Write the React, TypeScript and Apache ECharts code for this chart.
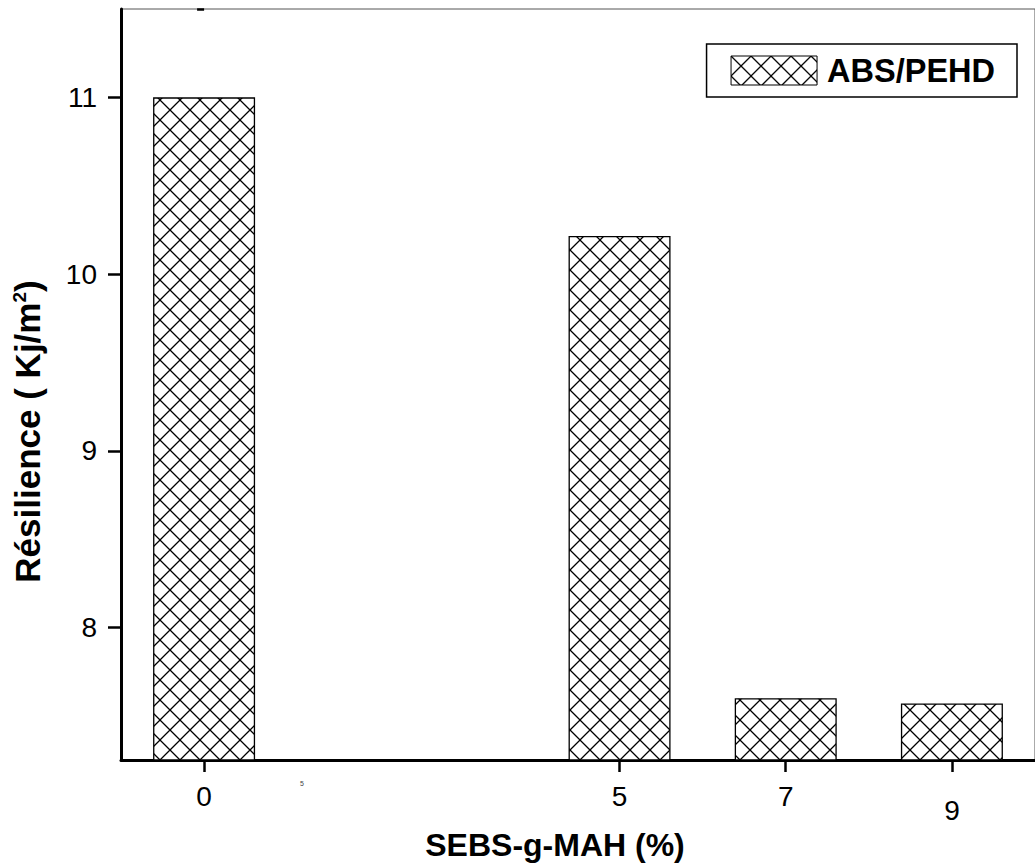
import React, { useEffect, useRef } from "react";
import * as echarts from "echarts";

// ---- data ----
const xValues = [0, 5, 7, 9];
const resilience = [11.0, 10.215, 7.6, 7.57];
const seriesName = "ABS/PEHD";
const xTickValues = [0, 5, 7, 9];
const yMajorTicks = [8, 9, 10, 11];
const yMinorTicks = [7.5, 8.5, 9.5, 10.5, 11.5];
const xAxisTitle = "SEBS-g-MAH (%)";
const yAxisTitle = "Résilience ( Kj/m{sup|2})";
const strayLabel = "5";

const FONT = "'Liberation Sans', Arial, Helvetica, sans-serif";

function makeHatch(): HTMLCanvasElement {
  const c = document.createElement("canvas");
  c.width = 20;
  c.height = 20;
  const ctx = c.getContext("2d")!;
  ctx.fillStyle = "#ffffff";
  ctx.fillRect(0, 0, 20, 20);
  ctx.strokeStyle = "#000000";
  ctx.lineWidth = 1.3;
  ctx.beginPath();
  for (const k of [-20, 0, 20]) {
    ctx.moveTo(k - 5, -5);
    ctx.lineTo(k + 25, 25);
    ctx.moveTo(k + 25, -5);
    ctx.lineTo(k - 5, 25);
  }
  ctx.stroke();
  return c;
}

export default function App() {
  const ref = useRef<HTMLDivElement>(null);
  useEffect(() => {
    if (!ref.current) return;
    const chart = echarts.init(ref.current, null, { renderer: "svg" });
    const hatch = {
      image: makeHatch(),
      repeat: "repeat",
      imageWidth: 20,
      imageHeight: 20,
    };
    const option: any = {
      animation: false,
      backgroundColor: "#ffffff",
      textStyle: { fontFamily: FONT },
      grid: {
        left: 121,
        right: -6,
        top: 9,
        bottom: 106,
        show: true,
        borderColor: "#555",
        borderWidth: 1,
        backgroundColor: "transparent",
      },
      legend: {
        top: 44,
        right: 18,
        padding: [10, 22, 10, 24],
        borderColor: "#000",
        borderWidth: 1.5,
        itemWidth: 86,
        itemHeight: 29,
        itemStyle: { borderColor: "#000", borderWidth: 1 },
        textStyle: {
          fontFamily: FONT,
          fontSize: 32.5,
          fontWeight: "bold",
          color: "#000",
          padding: [0, 0, 0, 5],
        },
        data: [{ name: seriesName, icon: "rect" }],
      },
      xAxis: {
        type: "value",
        min: -1,
        max: 10,
        name: xAxisTitle,
        nameLocation: "middle",
        nameGap: 58,
        nameTextStyle: {
          fontFamily: FONT,
          fontSize: 32,
          fontWeight: "bold",
          color: "#000",
          padding: [0, 46, 0, 0],
        },
        axisLine: { show: true, onZero: false, lineStyle: { color: "#000", width: 3 } },
        axisTick: {
          show: true,
          customValues: xTickValues,
          length: 12,
          lineStyle: { color: "#000", width: 2.5 },
        },
        axisLabel: {
          customValues: xTickValues,
          margin: 22,
          fontFamily: FONT,
          fontSize: 28,
          color: "#000",
          formatter: (v: number) => (v === 9 ? "{low|9}" : String(v)),
          rich: {
            low: { padding: [14, 0, 0, 0], fontSize: 28, color: "#000", fontFamily: FONT },
          },
        },
        splitLine: { show: false },
      },
      yAxis: [
        {
          type: "value",
          min: 7.25,
          max: 11.5,
          position: "left",
          name: yAxisTitle,
          nameLocation: "middle",
          nameGap: 76,
          nameTextStyle: {
            fontFamily: FONT,
            fontSize: 35,
            fontWeight: "bold",
            color: "#000",
            padding: [0, 94, 0, 0],
            rich: {
              sup: {
                fontFamily: FONT,
                fontSize: 19,
                fontWeight: "bold",
                color: "#000",
                verticalAlign: "top",
              },
            },
          },
          axisLine: { show: true, onZero: false, lineStyle: { color: "#000", width: 3 } },
          axisTick: {
            show: true,
            customValues: yMajorTicks,
            length: 13,
            lineStyle: { color: "#000", width: 2.5 },
          },
          axisLabel: {
            customValues: yMajorTicks,
            margin: 24,
            fontFamily: FONT,
            fontSize: 28,
            color: "#000",
          },
          splitLine: { show: false },
        },
        {
          type: "value",
          min: 7.25,
          max: 11.5,
          position: "left",
          axisLine: { show: false },
          axisTick: {
            show: true,
            customValues: yMinorTicks,
            length: 7,
            lineStyle: { color: "#000", width: 2.5 },
          },
          axisLabel: { show: false },
          splitLine: { show: false },
        },
      ],
      series: [
        {
          type: "bar",
          name: seriesName,
          yAxisIndex: 0,
          data: xValues.map((x, i) => [x, resilience[i]]),
          barWidth: 102,
          itemStyle: { color: hatch, borderColor: "#000", borderWidth: 1.3 },
        },
      ],
      graphic: [
        {
          type: "text",
          left: 300,
          top: 780,
          style: { text: strayLabel, fontSize: 7, fill: "#444", fontFamily: FONT },
        },
      ],
    };
    chart.setOption(option);
    return () => chart.dispose();
  }, []);
  return (
    <div
      ref={ref}
      style={{ position: "fixed", left: 0, top: 0, width: 1035, height: 866 }}
    />
  );
}
